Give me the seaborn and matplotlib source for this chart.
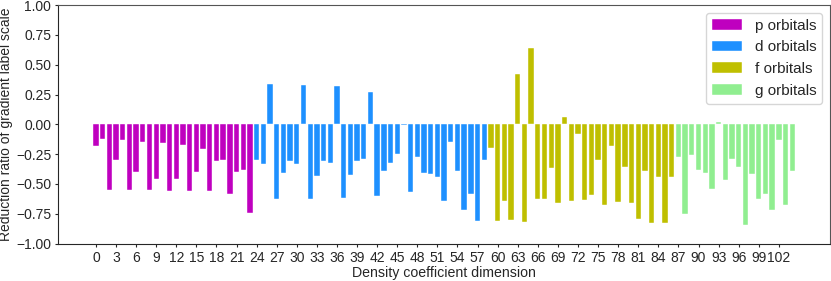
import numpy as np
import pandas as pd
import seaborn as sns
import matplotlib
matplotlib.use("Agg")
import matplotlib.pyplot as plt

# values, one list per orbital group
p_vals = [-0.18, -0.125, -0.547, -0.30, -0.13, -0.55, -0.40, -0.145, -0.55, -0.46,
          -0.16, -0.555, -0.46, -0.17, -0.555, -0.40, -0.21, -0.555, -0.31, -0.30,
          -0.585, -0.40, -0.38, -0.74]
d_vals = [-0.30, -0.335, 0.34, -0.625, -0.41, -0.305, -0.33, 0.333, -0.625, -0.43,
          -0.305, -0.32, 0.32, -0.62, -0.425, -0.305, -0.29, 0.267, -0.60, -0.39,
          -0.325, -0.25, -0.005, -0.565, -0.27, -0.41, -0.42, -0.445, -0.64, -0.145,
          -0.39, -0.72, -0.585, -0.81, -0.295]
f_vals = [-0.20, -0.81, -0.64, -0.80, 0.42, -0.82, 0.64, -0.63, -0.63, -0.365,
          -0.66, 0.06, -0.64, -0.08, -0.635, -0.59, -0.295, -0.675, -0.185, -0.655,
          -0.36, -0.66, -0.79, -0.39, -0.83, -0.445, -0.83, -0.445]
g_vals = [-0.27, -0.75, -0.26, -0.385, -0.405, -0.545, 0.022, -0.465, -0.29, -0.355,
          -0.845, -0.42, -0.63, -0.585, -0.715, -0.13, -0.68, -0.39]

groups = ["p orbitals", "d orbitals", "f orbitals", "g orbitals"]
colors = ["#BF00BF", "#1E90FF", "#BFBF00", "#90EE90"]

vals = p_vals + d_vals + f_vals + g_vals
labels = ([groups[0]] * len(p_vals) + [groups[1]] * len(d_vals)
          + [groups[2]] * len(f_vals) + [groups[3]] * len(g_vals))
df = pd.DataFrame({"dim": np.arange(len(vals)), "value": vals, "orbital": labels})

sns.set_style("ticks")
plt.rcParams["font.family"] = ["Liberation Sans", "DejaVu Sans"]

fig, ax = plt.subplots(figsize=(8.31, 2.81), dpi=100)
fig.subplots_adjust(left=0.07, right=0.9988, bottom=0.133, top=0.982)

sns.barplot(data=df, x="dim", y="value", hue="orbital", hue_order=groups,
            palette=dict(zip(groups, colors)), dodge=False, native_scale=True,
            saturation=1, width=0.8, edgecolor="white", linewidth=0.3, ax=ax)

n = len(vals)
ax.set_xlim(-0.4 - 0.05 * (n - 0.2), n - 0.6 + 0.05 * (n - 0.2))
ax.set_ylim(-1, 1)
ax.set_yticks(np.arange(-1, 1.01, 0.25))
ax.set_xticks(np.arange(0, n, 3))
ax.tick_params(labelsize=10, length=2.5, pad=2.5)
ax.set_xlabel("Density coefficient dimension", fontsize=10.2, labelpad=1)
ax.set_ylabel("Reduction ratio of gradient label scale", fontsize=10, labelpad=2)
for s in ["top", "right"]:
    ax.spines[s].set_color("#555555")
ax.legend(loc="upper right", fontsize=11)

plt.savefig("out.png", dpi=100)
